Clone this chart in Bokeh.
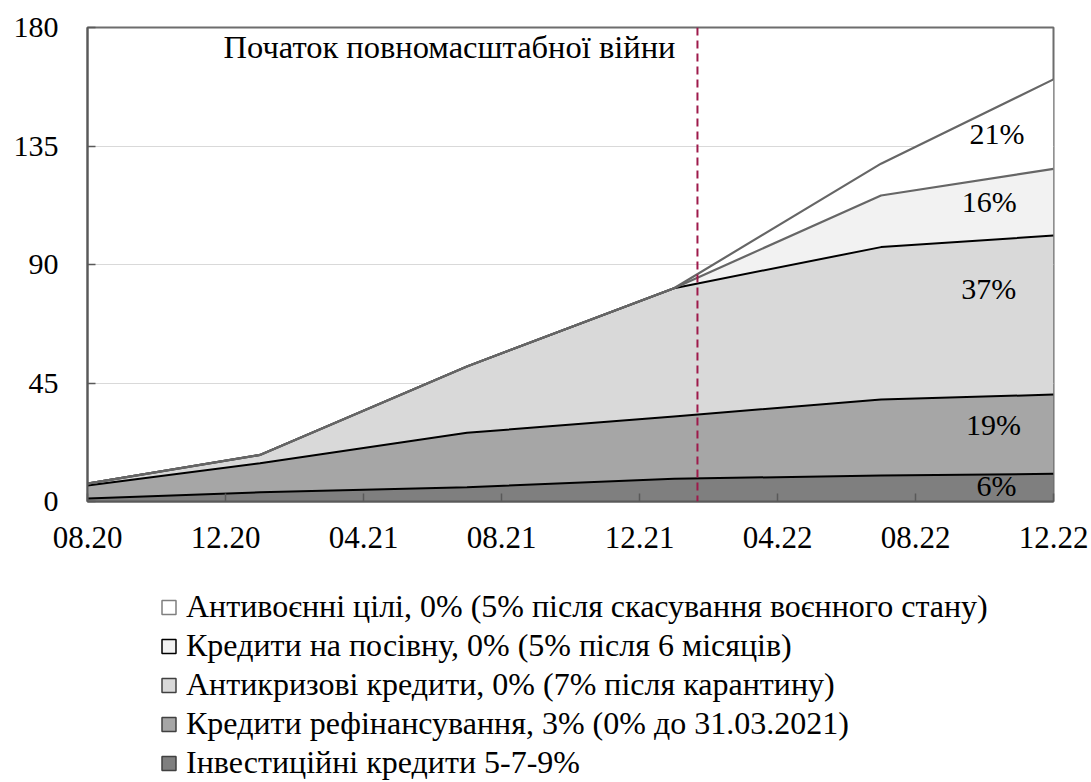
import numpy as np
from bokeh.plotting import figure
from bokeh.layouts import column
from bokeh.models import Range1d, FixedTicker, Span, Legend, LegendItem, ColumnDataSource
from bokeh.core.properties import value
from bokeh.embed import file_html
from bokeh.resources import INLINE

# ---------------- data ----------------
dates = ["08.20", "01.21", "07.21", "01.22", "07.22", "12.22"]
investment = [1.1, 3.5, 5.4, 8.6, 9.9, 10.5]
refinancing = [5.0, 11.0, 20.7, 23.7, 28.8, 30.1]
anticrisis = [0.7, 3.2, 25.2, 48.7, 57.9, 60.4]
sowing = [0.0, 0.0, 0.0, 0.0, 19.6, 25.3]
antiwar = [0.0, 0.0, 0.0, 0.0, 12.1, 34.0]

tick_labels = ["08.20", "12.20", "04.21", "08.21", "12.21", "04.22", "08.22", "12.22"]
y_ticks = [0, 45, 90, 135, 180]

names = [
    "Інвестиційні кредити 5-7-9%",
    "Кредити рефінансування, 3% (0% до 31.03.2021)",
    "Антикризові кредити, 0% (7% після карантину)",
    "Кредити на посівну, 0% (5% після 6 місяців)",
    "Антивоєнні цілі, 0% (5% після скасування воєнного стану)",
]
share_labels = ["6%", "19%", "37%", "16%", "21%"]
annotation_text = "Початок повномасштабної війни"

# ---------------- positions / styles ----------------
war_line_x = 17.68            # position of the dashed line (months from 08.20)
share_label_x = [26.35, 26.26, 26.12, 26.14, 26.36]
share_label_y = [6.1, 29.2, 80.9, 114.1, 139.6]

fills = ["#7f7f7f", "#a6a6a6", "#d9d9d9", "#f2f2f2", "#ffffff"]
top_lines = ["#000000", "#000000", "#000000", "#666666", "#666666"]
legend_borders = ["#404040", "#404040", "#404040", "#000000", "#7f7f7f"]
FONT = "Liberation Serif"
FS = "30px"


def month_index(s):
    mm, yy = s.split(".")
    return (int(yy) - 20) * 12 + int(mm) - 8


x = [month_index(d) for d in dates]
ticks = [month_index(t) for t in tick_labels]

layers = [investment, refinancing, anticrisis, sowing, antiwar]
cum = np.cumsum(np.array(layers, dtype=float), axis=0)
lower = [np.zeros(len(x))] + [cum[i - 1] for i in range(1, len(layers))]

W, H1, H2 = 1091, 570, 212
p = figure(width=W, height=H1, output_backend="svg", toolbar_location=None,
           x_range=Range1d(0, 28), y_range=Range1d(0, 180),
           min_border_left=87, min_border_right=W - 1053, min_border_top=27,
           min_border_bottom=H1 - 501)
p.background_fill_color = "white"
p.border_fill_color = "white"
p.outline_line_color = "#6d6d6d"
p.outline_line_width = 2

# grid
p.xgrid.visible = False
p.ygrid.ticker = FixedTicker(ticks=y_ticks)
p.ygrid.grid_line_color = "#d9d9d9"
p.ygrid.grid_line_width = 1

# areas
for i in range(len(layers)):
    p.varea(x=x, y1=lower[i], y2=cum[i], fill_color=fills[i], fill_alpha=1.0)

# top lines: black ones first, gray ones over them
for i in range(len(layers)):
    p.line(x=x, y=cum[i], line_color=top_lines[i],
           line_width=2 if top_lines[i] == "#000000" else 2.2)

# war line
p.add_layout(Span(location=war_line_x, dimension="height", line_color="#9e1a4b",
                  line_width=2, line_dash="8 5"))

# annotation text
p.text(x=[war_line_x], y=[172.5], text=[annotation_text], x_offset=-22,
       text_align="right", text_baseline="middle",
       text_font=value(FONT), text_font_size="32.5px", text_color="black")

# share labels
src = ColumnDataSource(dict(x=share_label_x, y=share_label_y, t=share_labels))
p.text(x="x", y="y", text="t", source=src, text_align="center",
       text_baseline="middle", text_font=value(FONT), text_font_size=FS,
       text_color="black")

# axes
for ax in (p.xaxis[0], p.yaxis[0]):
    ax.axis_line_color = "#595959"
    ax.axis_line_width = 2
    ax.major_tick_line_color = "#595959"
    ax.major_tick_line_width = 1.5
    ax.major_tick_in = 8
    ax.major_tick_out = 0
    ax.minor_tick_line_color = None
    ax.major_label_text_font = FONT
    ax.major_label_text_color = "black"

p.xaxis.major_label_text_font_size = "31px"
p.yaxis.major_label_text_font_size = "30px"
p.xaxis.ticker = FixedTicker(ticks=ticks)
p.xaxis.major_label_overrides = {t: lab for t, lab in zip(ticks, tick_labels)}
p.xaxis.major_label_standoff = 25
p.yaxis.ticker = FixedTicker(ticks=y_ticks)
p.yaxis.major_label_standoff = 29

# ---------------- legend figure ----------------
q = figure(width=W, height=H2, output_backend="svg", toolbar_location=None,
           x_range=Range1d(0, 1), y_range=Range1d(0, 1),
           x_axis_type=None, y_axis_type=None, min_border=0)
q.outline_line_color = None
q.grid.visible = False
q.background_fill_color = "white"
q.border_fill_color = "white"

items = []
for i in reversed(range(len(layers))):
    r = q.scatter(x=[np.nan], y=[np.nan], marker="square", size=14,
                  fill_color=fills[i], line_color=legend_borders[i], line_width=1.5)
    items.append(LegendItem(label=names[i], renderers=[r]))

legend = Legend(items=items, location=(64, 1), orientation="vertical",
                glyph_width=35, glyph_height=36, label_standoff=0, spacing=2,
                padding=0, margin=0, border_line_color=None,
                background_fill_alpha=0, label_text_font=FONT,
                label_text_font_size="32px", label_text_color="black")
q.add_layout(legend, "center")

layout = column(p, q, spacing=0)
open("out.html", "w").write(file_html(layout, INLINE))
